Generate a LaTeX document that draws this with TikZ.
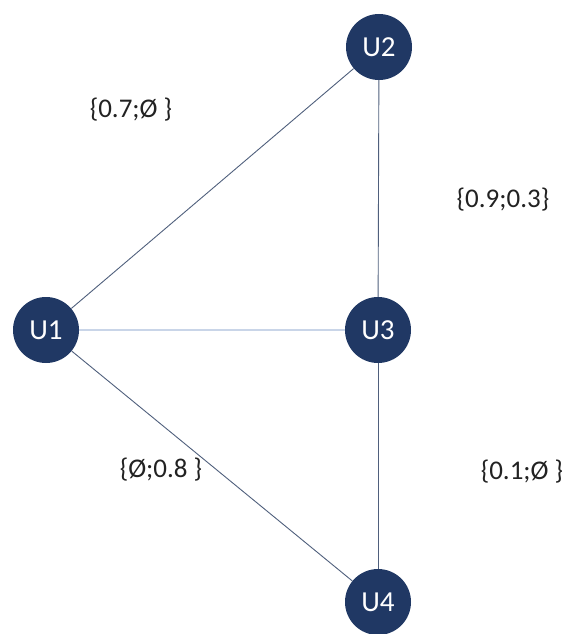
\documentclass[tikz,border=0pt]{standalone}
\usepackage{fontspec}
\setmainfont{Carlito}
\definecolor{navy}{HTML}{203864}
\definecolor{edgedark}{HTML}{4F5F7C}
\definecolor{edgelight}{HTML}{C9D5E8}
\definecolor{labeltext}{HTML}{222222}
\begin{document}
\begin{tikzpicture}[x=1pt,y=-1pt,
  vertex/.style={circle,fill=navy,draw=none,minimum size=66pt,inner sep=0pt,
    text=white,font=\fontsize{29}{32}\selectfont},
  link/.style={draw=edgedark,line width=0.9pt},
  lightlink/.style={draw=edgelight,line width=1.2pt},
  weight/.style={text=labeltext,font=\fontsize{27}{30}\selectfont,inner sep=0pt}]
  \useasboundingbox (0,0) rectangle (574,634);
  % vertices
  \node[vertex] (u1) at (46,330) {U1};
  \node[vertex] (u2) at (379,47) {U2};
  \node[vertex] (u3) at (378,330) {U3};
  \node[vertex] (u4) at (378,602) {U4};
  % edges
  \draw[link] (u1) -- (u2);
  \draw[link] (u2) -- (u3);
  \draw[lightlink] (u1) -- (u3);
  \draw[link] (u3) -- (u4);
  \draw[link] (u1) -- (u4);
  % edge weights
  \node[weight] (w12) at (131,110) {\{0.7;Ø \}};
  \node[weight] (w23) at (503,200) {\{0.9;0.3\}};
  \node[weight] (w14) at (161,470) {\{Ø;0.8 \}};
  \node[weight] (w34) at (522,472) {\{0.1;Ø \}};
\end{tikzpicture}
\end{document}
